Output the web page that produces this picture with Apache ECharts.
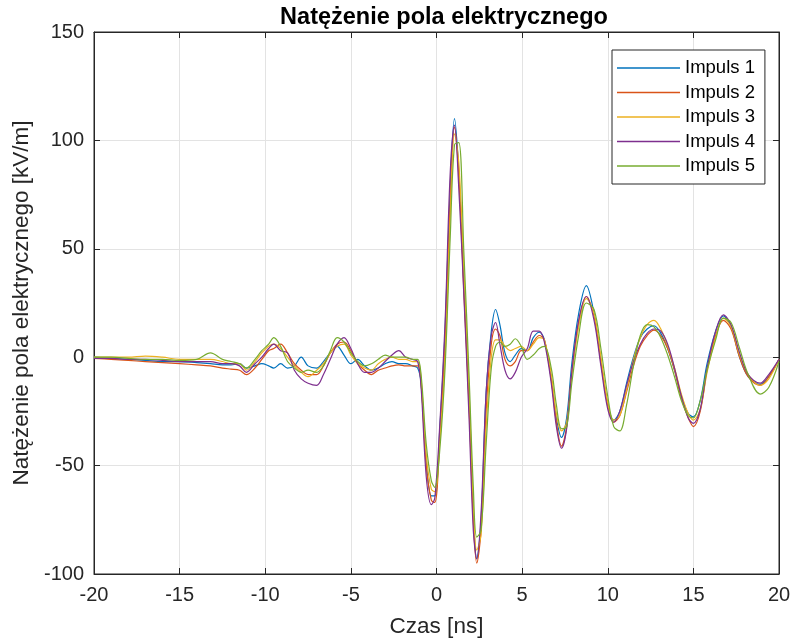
<!DOCTYPE html>
<html>
<head>
<meta charset="utf-8">
<script src="https://cdn.jsdelivr.net/npm/echarts@6/dist/echarts.min.js"></script>
<style>
html,body{margin:0;padding:0;background:#fff;}
#chart{width:795px;height:643px;}
</style>
</head>
<body>
<div id="chart"></div>
<script>
var times = [-20, -19, -18, -17, -16, -15, -14, -13.2, -12.5, -12, -11.5, -11.1, -10.6, -10.2, -9.8, -9.5, -9.1, -8.7, -8.3, -7.9,
    -7.5, -7.0, -6.6, -6.2, -5.8, -5.4, -5.0, -4.6, -4.2, -3.8, -3.4, -3.0, -2.6, -2.2, -1.8, -1.4, -1.1, -0.9, -0.6, -0.3,
    -0.1, 0.2, 0.5, 0.8, 1.05, 1.3, 1.6, 1.9, 2.15, 2.35, 2.6, 2.9, 3.2, 3.45, 3.7, 4.0, 4.3, 4.6, 4.95, 5.3,
    5.65, 6.0, 6.3, 6.7, 7.0, 7.3, 7.6, 7.9, 8.3, 8.75, 9.2, 9.6, 10.0, 10.35, 10.7, 11.1, 11.5, 11.9, 12.3, 12.7,
    13.1, 13.5, 13.9, 14.3, 14.7, 15.0, 15.4, 15.8, 16.3, 16.75, 17.2, 17.7, 18.2, 18.9, 19.4, 20];

var impuls1 = [0, -0.5, -1, -1.5, -2, -2, -2.5, -3, -3.5, -3.5, -3, -5, -4, -3, -4, -5, -3, -5, -4, 0,
    -4, -5, -2, 2, 5, 1, -3, -1, -4, -6, -5, -3, -2, -3, -3, -4, -5, -12, -48, -64,
    -64, -32, 12, 78, 110, 86, 33, -20, -72, -93, -76, -16, 12, 22, 15, 2, -2, 1, 4, 3,
    9, 11.5, 8, -10, -28, -37, -28, -3, 20, 33, 20, -2, -22, -29, -25, -12, 0, 9, 13, 14.5,
    11, 4, -6, -18, -26, -27.5, -20, -3, 12, 19, 14, 0, -9, -12.5, -9, -1];

var impuls2 = [-0.5, -1, -1.5, -2, -2.5, -3, -3.5, -4, -5, -5.5, -6, -8, -5, -1, 3, 4, 6, 2, -3, -6,
    -8, -8, -4, 2, 6, 7, 3, -3, -6, -8, -6, -5, -4, -3.5, -4, -4, -4, -12, -50, -66,
    -67, -36, 6, 72, 106, 84, 30, -22, -75, -95, -80, -25, 6, 13, 10, -1, -4, -2, 3, 3,
    7, 10, 8, -10, -30, -41, -32, -7, 16, 28, 19, -2, -22, -30, -27, -16, -4, 5, 10, 12.5,
    10, 4, -6, -19, -28, -32, -25, -6, 10, 17, 13, 0, -9, -13, -9, -1];

var impuls3 = [0, 0, 0, 0.5, 0, -1, -1, -1, -2, -3, -3, -6, -2, 2, 5, 6, 4, 0, -4, -7,
    -9, -6, -3, 2, 5, 6, 1, -3, -5, -6, -3, -1, 0, -1, -1, -2, -2, -10, -45, -61,
    -62, -38, 0, 65, 103, 90, 40, -15, -68, -89, -82, -32, 0, 8, 8, 5, 3, 4, 5, 3,
    6, 9, 8, -8, -26, -34, -30, -9, 14, 27, 20, 0, -21, -29, -27, -15, -1, 9, 15, 17,
    13, 5, -5, -17, -26, -29, -24, -7, 9, 18, 14, 1, -8, -13, -10, -1];

var impuls4 = [-0.5, -0.5, -1, -1, -1.5, -2, -2, -2, -3, -3, -4, -7, -3, 0, 4, 6, 3, 2, -6, -10,
    -12, -13, -8, -1, 6, 9, 4, -3, -7, -7, -5, -2, 1, 3, 0, -1, -2, -14, -55, -68,
    -65, -30, 16, 85, 107, 78, 28, -28, -80, -93, -72, -16, 10, 16, 6, -6, -10, -7, 0, 4,
    12, 12, 7, -12, -32, -42, -33, -7, 17, 28, 17, -4, -24, -30, -25, -13, -2, 6, 11, 13,
    12, 6, -5, -18, -28, -30.5, -24, -5, 12, 19.5, 15, 2, -8, -12, -8, -1];

var impuls5 = [0, 0, -0.5, -1, -1, -1.5, -1, 2, -1, -2, -3, -5, -1, 3, 6, 9, 5, -2, -5, -7,
    -6, -7, -4, 3, 9, 7, 2, -2, -4, -3, -1, 1, 0, 0, 0, -1, -1, -8, -40, -57,
    -60, -42, -5, 55, 98, 99, 48, -8, -60, -83, -80, -40, -5, 5, 7, 5, 6, 8.5, 5, -1,
    1, 4, 5, -5, -22, -33, -32, -12, 10, 25, 22, 4, -18, -32, -34, -22, -4, 10, 15, 14,
    9, 1, -9, -20, -27, -28, -20, -6, 8, 18, 16, 4, -8, -17, -14, -2];

var seriesNames = ['Impuls 1', 'Impuls 2', 'Impuls 3', 'Impuls 4', 'Impuls 5'];
var seriesColors = ['#0072BD', '#D95319', '#EDB120', '#7E2F8E', '#77AC30'];
var allValues = [impuls1, impuls2, impuls3, impuls4, impuls5];

var chart = echarts.init(document.getElementById('chart'), null, {renderer: 'canvas'});

function pairs(vals) {
    var out = [];
    for (var i = 0; i < times.length; i++) {
        out.push([times[i], vals[i]]);
    }
    return out;
}

var series = [];
for (var k = 0; k < allValues.length; k++) {
    series.push({
        name: seriesNames[k],
        type: 'line',
        data: pairs(allValues[k]),
        showSymbol: false,
        symbol: 'none',
        smooth: 0.35,
        lineStyle: {color: seriesColors[k], width: 1.2},
        itemStyle: {color: seriesColors[k]},
        xAxisIndex: 0,
        yAxisIndex: 0
    });
}

var axisColor = '#262626';
var font = 'Liberation Sans, Arial, sans-serif';

var option = {
    backgroundColor: '#fff',
    animation: false,
    textStyle: {fontFamily: font},
    title: {
        text: 'Natężenie pola elektrycznego',
        left: 439,
        textAlign: 'center',
        top: 1,
        textStyle: {fontFamily: font, fontSize: 23.5, fontWeight: 'bold', color: '#000'}
    },
    grid: {
        left: 94, right: 16, top: 32, bottom: 69,
        show: true, borderColor: axisColor, borderWidth: 1
    },
    legend: {
        orient: 'vertical',
        left: 612,
        top: 50,
        data: seriesNames,
        icon: 'rect',
        itemWidth: 63,
        itemHeight: 1.5,
        itemGap: 4.5,
        padding: [8, 10, 8, 5],
        borderColor: axisColor,
        borderWidth: 1,
        backgroundColor: '#fff',
        textStyle: {fontFamily: font, fontSize: 18.5, color: '#000', lineHeight: 20}
    },
    xAxis: [{
        type: 'value',
        min: -20, max: 20, interval: 5,
        name: 'Czas [ns]',
        nameLocation: 'middle',
        nameGap: 41,
        nameTextStyle: {fontFamily: font, fontSize: 22.5, color: axisColor},
        axisLine: {onZero: false, lineStyle: {color: axisColor}},
        axisTick: {inside: true, length: 6, lineStyle: {color: axisColor}},
        axisLabel: {fontFamily: font, fontSize: 20, color: axisColor, margin: 11},
        splitLine: {show: true, lineStyle: {color: '#e3e3e3'}}
    }, {
        type: 'value',
        position: 'top',
        min: -20, max: 20, interval: 5,
        axisLine: {show: true, onZero: false, lineStyle: {color: axisColor}},
        axisTick: {inside: true, length: 6, lineStyle: {color: axisColor}},
        axisLabel: {show: false},
        splitLine: {show: false}
    }],
    yAxis: [{
        type: 'value',
        min: -100, max: 150, interval: 50,
        name: 'Natężenie pola elektrycznego [kV/m]',
        nameLocation: 'middle',
        nameGap: 58,
        nameTextStyle: {fontFamily: font, fontSize: 22.5, color: axisColor},
        axisLine: {show: true, onZero: false, lineStyle: {color: axisColor}},
        axisTick: {show: true, inside: true, length: 6, lineStyle: {color: axisColor}},
        axisLabel: {fontFamily: font, fontSize: 20, color: axisColor, margin: 10},
        splitLine: {show: true, lineStyle: {color: '#e3e3e3'}}
    }, {
        type: 'value',
        position: 'right',
        min: -100, max: 150, interval: 50,
        axisLine: {show: true, onZero: false, lineStyle: {color: axisColor}},
        axisTick: {show: true, inside: true, length: 6, lineStyle: {color: axisColor}},
        axisLabel: {show: false},
        splitLine: {show: false}
    }],
    series: series
};

chart.setOption(option);
</script>
</body>
</html>
